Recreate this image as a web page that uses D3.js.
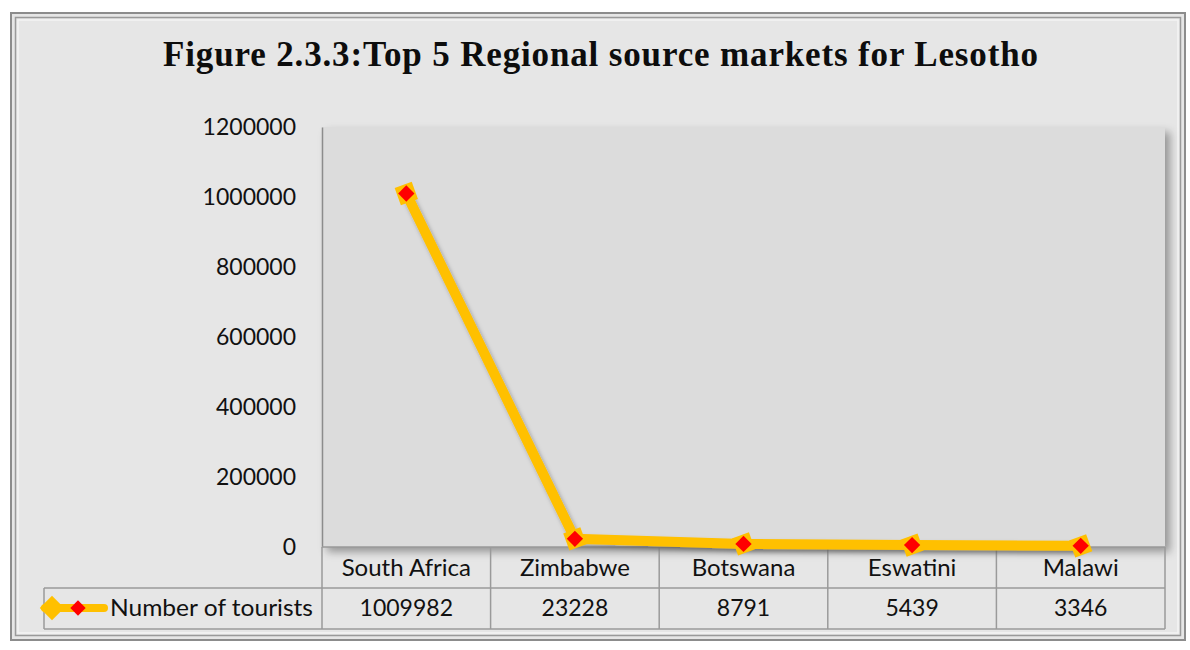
<!DOCTYPE html>
<html>
<head>
<meta charset="utf-8">
<script src="https://cdn.jsdelivr.net/npm/d3@7"></script>
<style>
  body { margin: 0; background: #ffffff; }
  text { font-family: Lato, "Open Sans", sans-serif; }
</style>
</head>
<body>
<div id="chart"></div>
<script>
// chart data
var categories = ["South Africa", "Zimbabwe", "Botswana", "Eswatini", "Malawi"];
var tourists = [1009982, 23228, 8791, 5439, 3346];
var yTicks = [0, 200000, 400000, 600000, 800000, 1000000, 1200000];
var seriesName = "Number of tourists";
var titleText = "Figure 2.3.3:Top 5 Regional source markets for Lesotho";

var W = 1190, H = 650;
var plot = {left: 322, right: 1165, top: 127, bottom: 547};
var rowH = 41;

var svg = d3.select("#chart").append("svg")
  .attr("width", W).attr("height", H);

var defs = svg.append("defs");
var f = defs.append("filter").attr("id", "shadow")
  .attr("x", "-5%").attr("y", "-5%").attr("width", "115%").attr("height", "120%");
f.append("feDropShadow").attr("dx", 5).attr("dy", 5).attr("stdDeviation", 4)
  .attr("flood-color", "#000").attr("flood-opacity", 0.35);
var f2 = defs.append("filter").attr("id", "mshadow")
  .attr("x", "-50%").attr("y", "-50%").attr("width", "200%").attr("height", "200%");
f2.append("feDropShadow").attr("dx", 2).attr("dy", 3).attr("stdDeviation", 2)
  .attr("flood-color", "#000").attr("flood-opacity", 0.3);

// frame
svg.append("rect").attr("x", 11).attr("y", 13).attr("width", 1174).attr("height", 627)
  .attr("fill", "#e6e6e6").attr("stroke", "#8c8c8c").attr("stroke-width", 2);
svg.append("rect").attr("x", 15.5).attr("y", 17.5).attr("width", 1165).attr("height", 618)
  .attr("fill", "none").attr("stroke", "#9a9a9a").attr("stroke-width", 1.5);
svg.append("rect").attr("x", 18).attr("y", 20).attr("width", 1160).attr("height", 613)
  .attr("fill", "none").attr("stroke", "#f4f4f4").attr("stroke-width", 1.5);

// title
svg.append("text")
  .attr("x", 163).attr("y", 66)
  .attr("textLength", 875).attr("lengthAdjust", "spacing")
  .style("font-family", "'Liberation Serif', 'DejaVu Serif', serif")
  .style("font-weight", "bold")
  .style("font-size", "35px")
  .attr("fill", "#0d0d0d")
  .text(titleText);

// scales
var x = d3.scaleBand().domain(categories).range([plot.left, plot.right]);
var y = d3.scaleLinear().domain([0, 1200000]).range([plot.bottom, plot.top]);

// plot area
svg.append("rect")
  .attr("x", plot.left).attr("y", plot.top)
  .attr("width", plot.right - plot.left).attr("height", plot.bottom - plot.top)
  .attr("fill", "#dcdcdc")
  .attr("filter", "url(#shadow)");

// y axis labels
var yAxis = svg.append("g")
  .attr("transform", "translate(" + plot.left + ",0)")
  .call(d3.axisLeft(y).tickValues(yTicks).tickSize(0).tickPadding(26).tickFormat(d3.format("d")));
yAxis.select(".domain").attr("stroke", "#8c8c8c").attr("stroke-width", 1.5);
yAxis.selectAll("text").style("font-size", "23px").attr("fill", "#111")
  .style("font-family", "Lato, sans-serif");

// data table
var table = svg.append("g");
var tLeft = 44;
var gridColor = "#9a9a9a";
// horizontal lines
table.append("line").attr("x1", plot.left).attr("x2", plot.right)
  .attr("y1", plot.bottom).attr("y2", plot.bottom).attr("stroke", gridColor).attr("stroke-width", 1.5);
table.append("line").attr("x1", tLeft).attr("x2", plot.right)
  .attr("y1", plot.bottom + rowH).attr("y2", plot.bottom + rowH).attr("stroke", gridColor).attr("stroke-width", 1.5);
table.append("line").attr("x1", tLeft).attr("x2", plot.right)
  .attr("y1", plot.bottom + 2 * rowH).attr("y2", plot.bottom + 2 * rowH).attr("stroke", gridColor).attr("stroke-width", 1.5);
// vertical lines
table.append("line").attr("x1", tLeft).attr("x2", tLeft)
  .attr("y1", plot.bottom + rowH).attr("y2", plot.bottom + 2 * rowH).attr("stroke", gridColor).attr("stroke-width", 1.5);
table.selectAll(".vline").data(categories.concat(["_end"])).enter().append("line")
  .attr("x1", function(d) { return d === "_end" ? plot.right : x(d); })
  .attr("x2", function(d) { return d === "_end" ? plot.right : x(d); })
  .attr("y1", plot.bottom).attr("y2", plot.bottom + 2 * rowH)
  .attr("stroke", gridColor).attr("stroke-width", 1.5);

table.selectAll(".cat").data(categories).enter().append("text")
  .attr("x", function(d) { return x(d) + x.bandwidth() / 2; })
  .attr("y", plot.bottom + 29)
  .attr("text-anchor", "middle")
  .style("font-size", "24px").attr("fill", "#111")
  .text(function(d) { return d; });

table.selectAll(".val").data(tourists).enter().append("text")
  .attr("x", function(d, i) { return x(categories[i]) + x.bandwidth() / 2; })
  .attr("y", plot.bottom + rowH + 28)
  .attr("text-anchor", "middle")
  .style("font-size", "23px").attr("fill", "#111")
  .text(function(d) { return d; });

// legend key in table
var ky = plot.bottom + rowH + 20;
table.append("line").attr("x1", 45).attr("x2", 104).attr("y1", ky).attr("y2", ky)
  .attr("stroke", "#ffc000").attr("stroke-width", 8).attr("stroke-linecap", "round");
table.append("path").attr("d", d3.symbol(d3.symbolDiamond2, 380)())
  .attr("transform", "translate(52," + ky + ")").attr("fill", "#ffc000");
table.append("path").attr("d", d3.symbol(d3.symbolDiamond2, 150)())
  .attr("transform", "translate(78," + ky + ")").attr("fill", "#ff0000");
table.append("text").attr("x", 110).attr("y", plot.bottom + rowH + 28)
  .attr("textLength", 203).attr("lengthAdjust", "spacingAndGlyphs")
  .style("font-size", "24px").attr("fill", "#111").text(seriesName);

// series line
var pts = tourists.map(function(v, i) { return [x(categories[i]) + x.bandwidth() / 2, y(v)]; });
svg.append("path")
  .attr("d", d3.line()(pts))
  .attr("fill", "none")
  .attr("stroke", "#ffc000")
  .attr("stroke-width", 10)
  .attr("stroke-linejoin", "round")
  .attr("filter", "url(#mshadow)");

// markers
var marks = svg.selectAll(".mark").data(pts).enter().append("g")
  .attr("transform", function(d) { return "translate(" + d[0] + "," + d[1] + ")"; });
marks.append("path").attr("d", d3.symbol(d3.symbolDiamond2, 420)())
  .attr("transform", "rotate(25)")
  .attr("fill", "#ffc000");
marks.append("path").attr("d", d3.symbol(d3.symbolDiamond2, 170)())
  .attr("fill", "#ff0000");
</script>
</body>
</html>
